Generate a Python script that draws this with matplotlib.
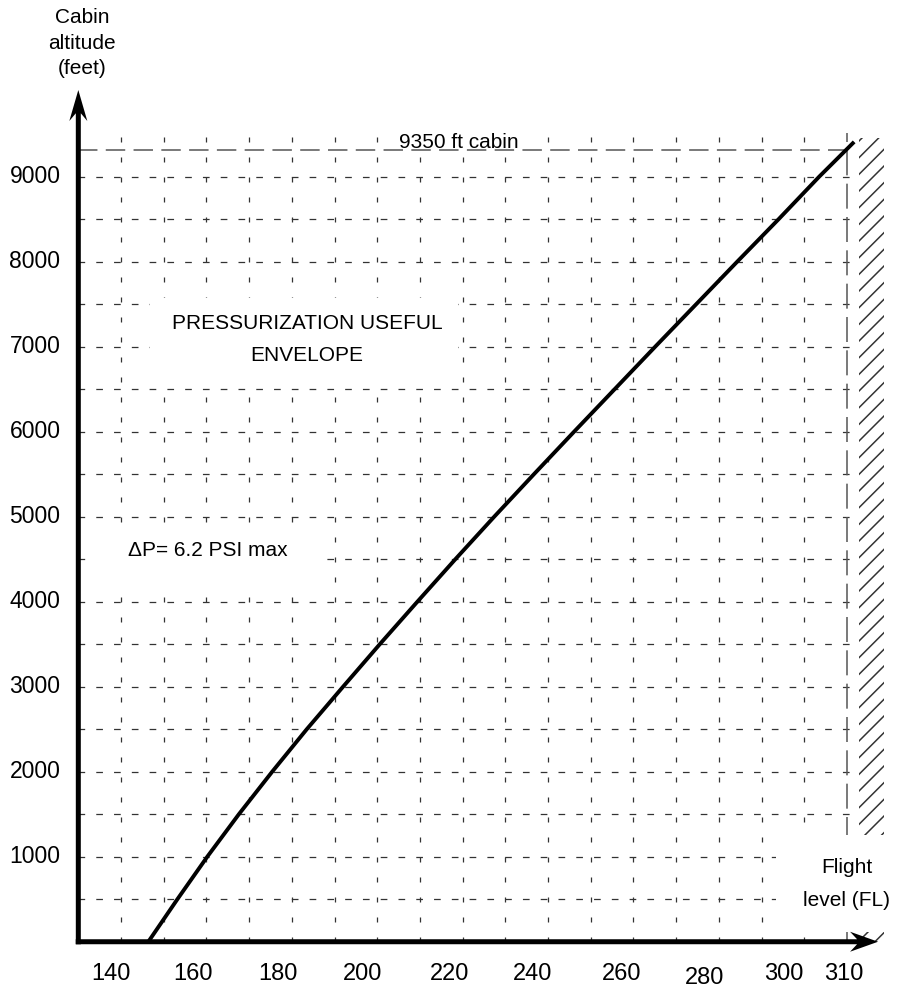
import matplotlib
matplotlib.use("Agg")
import matplotlib.pyplot as plt
from matplotlib.patches import Rectangle
from matplotlib.transforms import offset_copy

# curve: flight level vs cabin altitude (ft)
FLIGHT_LEVEL = [146.4, 153.2, 160.2, 167.6, 175.4, 183.5, 192.0, 200.6, 209.4, 218.3,
                227.4, 236.7, 246.1, 255.6, 265.1, 274.7, 284.3, 294.0, 303.5, 311.7]
CABIN_ALT = [0, 500, 1000, 1500, 2000, 2500, 3000, 3500, 4000, 4500,
             5000, 5500, 6000, 6500, 7000, 7500, 8000, 8500, 9000, 9410]

X_TICKS = [140, 160, 180, 200, 220, 240, 260, 280, 300, 310]
Y_TICKS = [1000, 2000, 3000, 4000, 5000, 6000, 7000, 8000, 9000]
GRID_FL = list(range(140, 301, 10))
GRID_ALT = list(range(500, 9001, 500))
MAX_FL = 310
CABIN_LINE = 9310   # where the "9350 ft cabin" line is drawn
FL_MIN = 130

# scale of the drawing: 4.27 px per FL, 0.085 px per ft
PX_FL, PX_FT = 4.27, 0.085

plt.rcParams['font.family'] = ['Liberation Sans', 'DejaVu Sans']
plt.rcParams['lines.scale_dashes'] = False
plt.rcParams['hatch.linewidth'] = 1.1
plt.rcParams['hatch.color'] = '#333333'

fig = plt.figure(figsize=(8.99, 9.89), dpi=100)
ax = fig.add_axes([0, 0, 1, 1])
ax.set_xlim(111.66, 322.2)
ax.set_ylim(-556, 11079)
ax.axis('off')

# grid
for a in GRID_ALT:
    ax.plot([FL_MIN, MAX_FL + 1], [a, a], color='#333333', lw=0.9,
            linestyle=(0, (4.8, 8.0)), zorder=1)
for f in GRID_FL:
    ax.plot([f, f], [0, 9510], color='#333333', lw=0.9,
            linestyle=(0, (3.6, 10.8)), zorder=1)

# long-dash limits
ax.plot([FL_MIN, MAX_FL], [CABIN_LINE, CABIN_LINE], color='#555555', lw=1.1,
        linestyle=(0, (14, 6)), zorder=2)
ax.plot([MAX_FL, MAX_FL], [0, 9510], color='#555555', lw=1.1,
        linestyle=(0, (18, 6)), zorder=2)

# hatched zone beyond FL310
ax.add_patch(Rectangle((312.8, 0), 5.8, 9455, fill=False, hatch='//',
                       edgecolor='#333333', lw=0, zorder=2))

# white backgrounds behind labels
for (x0, x1, y0, y1) in [(146.8, 218.9, 6530, 7573), (133.9, 186.6, 4138, 4879),
                         (293.5, 321.5, 115, 1255), (204.6, 233.4, 9328, 9560)]:
    ax.add_patch(Rectangle((x0, y0), x1 - x0, y1 - y0, facecolor='white',
                           edgecolor='none', zorder=3))

# main curve
ax.plot(FLIGHT_LEVEL, CABIN_ALT, color='black', lw=2.8, solid_capstyle='butt',
        solid_joinstyle='round', zorder=4)

# axes with arrows
ax.arrow(FL_MIN, -30, 0, 10050, width=5 / PX_FL, head_width=18 / PX_FL,
         head_length=31 / PX_FT, overhang=0.25, length_includes_head=True,
         color='black', lw=0, zorder=6)
ax.arrow(FL_MIN - 0.6, 0, 317.3 - FL_MIN + 0.6, 0, width=5 / PX_FT, head_width=20 / PX_FT,
         head_length=28 / PX_FL, overhang=0.25, length_includes_head=True,
         color='black', lw=0, zorder=6)

# tick labels
for v in Y_TICKS:
    ax.text(125.8, v, str(v), ha='right', va='center', fontsize=16.5, zorder=5)

x_off = [-10, -13, -14, -15, -13, -15, -12, -14, -20, -3]
for v, dx in zip(X_TICKS, x_off):
    dy = -4 if v == 280 else 0
    tr = offset_copy(ax.transData, fig=fig, x=dx, y=dy, units='dots')
    ax.text(v, -380, str(v), ha='center', va='center', fontsize=17, transform=tr, zorder=5)

# annotations
for txt, y in [("Cabin", 10879), ("altitude", 10573), ("(feet)", 10279)]:
    ax.text(130.9, y, txt, ha='center', va='center', fontsize=15, zorder=5)
ax.text(183.6, 7279, "PRESSURIZATION USEFUL", ha='center', va='center', fontsize=15, zorder=5)
ax.text(183.6, 6895, "ENVELOPE", ha='center', va='center', fontsize=15, zorder=5)
ax.text(141.6, 4601, "ΔP= 6.2 PSI max", ha='left', va='center', fontsize=15, zorder=5)
ax.text(219.2, 9333, "9350 ft cabin", ha='center', va='baseline', fontsize=15, zorder=5)
ax.text(310.0, 868, "Flight", ha='center', va='center', fontsize=15, zorder=5)
ax.text(310.0, 491, "level (FL)", ha='center', va='center', fontsize=15, zorder=5)

fig.savefig("out.png", dpi=100)
